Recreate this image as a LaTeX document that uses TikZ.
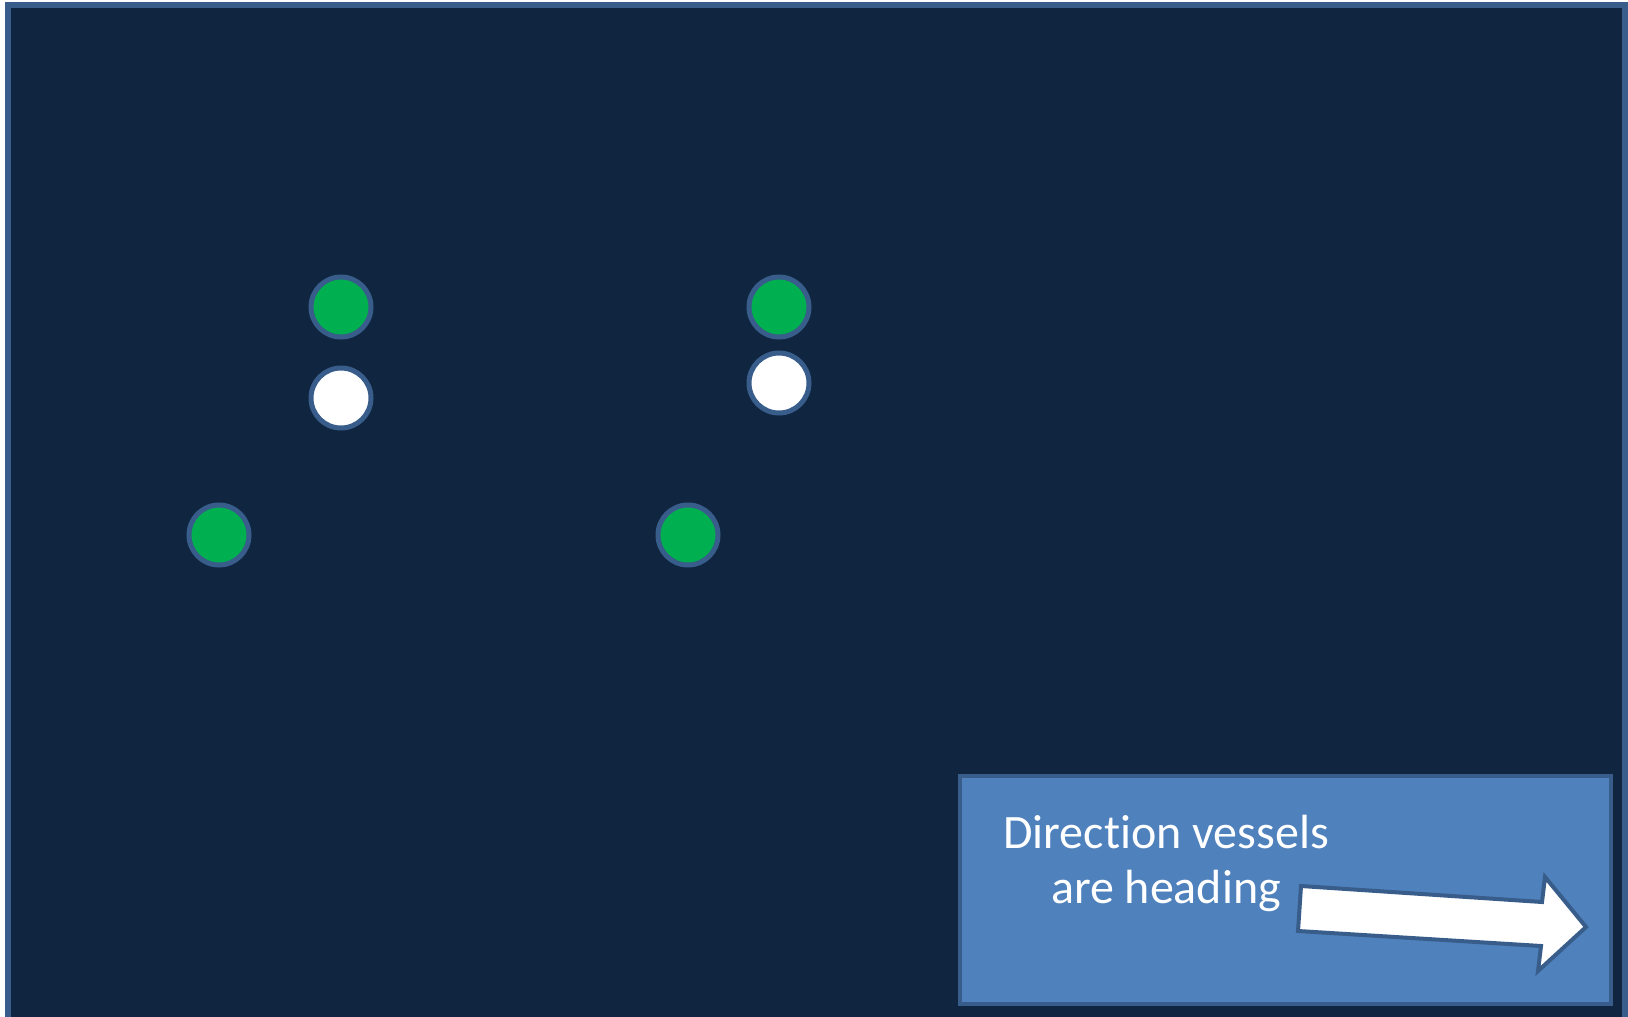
\documentclass[tikz,border=0pt]{standalone}
\usepackage{fontspec}
\setmainfont[Ligatures={NoCommon}]{Carlito}
\definecolor{navy}{RGB}{16,37,64}
\definecolor{edge}{RGB}{56,93,138}
\definecolor{boxblue}{RGB}{79,129,189}
\definecolor{vgreen}{RGB}{0,176,80}
\tikzset{
  vessel/.style={circle, draw=edge, line width=5pt, minimum size=60pt, inner sep=0pt},
  greenv/.style={vessel, fill=vgreen},
  whitev/.style={vessel, fill=white},
  legendbox/.style={draw=edge, fill=boxblue, line width=4pt},
  legendtext/.style={text=white, align=center, font=\fontsize{48}{55}\selectfont, inner sep=0pt},
  headarrow/.style={draw=edge, fill=white, line width=4pt, line join=miter}
}
\begin{document}
\begin{tikzpicture}[x=1pt,y=-1pt]
\useasboundingbox (0,0) rectangle (1628,1017);
\clip (0,0) rectangle (1628,1017);
\fill[white] (0,0) rectangle (1628,1017);
\draw[edge, fill=navy, line width=6pt] (8,5) rectangle (1625,1030);
\node[greenv] (g1) at (341,307) {};
\node[whitev] (w1) at (341,398) {};
\node[greenv] (g2) at (779,307) {};
\node[whitev] (w2) at (779,383) {};
\node[greenv] (g3) at (219,535) {};
\node[greenv] (g4) at (688,535) {};
\draw[legendbox] (960,776) rectangle (1611,1004);
\node[legendtext, anchor=base] (t1) at (1166,848) {Direction vessels};
\node[legendtext, anchor=base] (t2) at (1166,903) {are heading};
\draw[headarrow] (1301,886) -- (1542,902) -- (1545,877) -- (1586,927) -- (1538,971) -- (1541,946) -- (1298,931) -- cycle;
\end{tikzpicture}
\end{document}
